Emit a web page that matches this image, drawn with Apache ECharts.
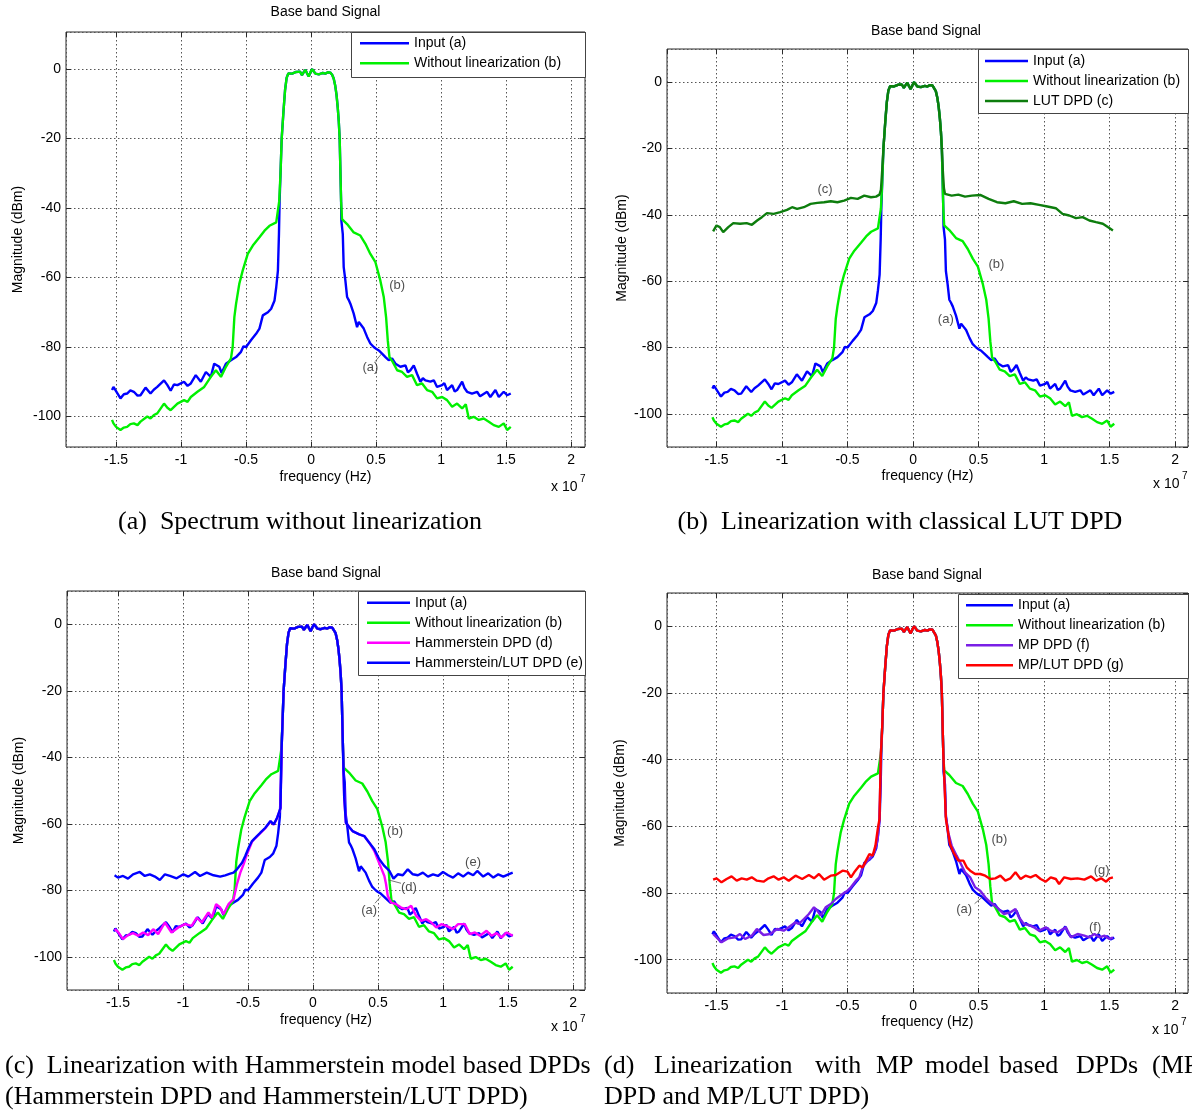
<!DOCTYPE html>
<html><head><meta charset="utf-8">
<script src="https://cdn.jsdelivr.net/npm/echarts@6/dist/echarts.min.js"></script>
<style>html,body{margin:0;padding:0;background:#fff}#c{width:1192px;height:1113px}</style>
</head><body><div id="c"></div>
<script>
// ---------- DATA (frequency in units of 1e7 Hz, magnitude in dBm) ----------
const xTickLabels = ['-1.5','-1','-0.5','0','0.5','1','1.5','2'];
const yTickLabels = ['-100','-80','-60','-40','-20','0'];

// shared pass-band (main lobe) of all spectra
const lobeTop = [[-0.235,-30],[-0.226,-20],[-0.212,-12],[-0.2,-6],[-0.188,-2.5],[-0.175,-1.2],[-0.16,-1],[-0.145,-1.3],[-0.13,-1.1],[-0.115,-0.8],[-0.1,-1.2],[-0.085,-0.7],[-0.07,-1.7],[-0.057,-0.9],[-0.044,-0.2],[-0.031,-1.2],[-0.018,-2.1],[-0.006,-1],[0.008,0],[0.02,-0.6],[0.033,-1.3],[0.046,-1.1],[0.06,-1.5],[0.072,-1.7],[0.09,-1.1],[0.11,-1.3],[0.128,-0.9],[0.148,-1],[0.162,-1.6],[0.174,-2.7],[0.186,-4.8],[0.196,-7.5],[0.205,-11],[0.213,-15],[0.22,-20],[0.226,-30]];

// (a) Input
const inputLeft = [[-1.531,-92.4],[-1.52,-91.5],[-1.466,-94.8],[-1.44,-93.6],[-1.415,-93.4],[-1.39,-92.5],[-1.363,-92.9],[-1.335,-94],[-1.312,-93.9],[-1.273,-91.7],[-1.235,-93.4],[-1.21,-92.3],[-1.183,-91.5],[-1.131,-89.6],[-1.105,-91],[-1.08,-92.6],[-1.055,-90.8],[-1.028,-91],[-0.977,-90],[-0.95,-91.2],[-0.925,-90.5],[-0.887,-88.1],[-0.848,-90],[-0.809,-87.2],[-0.771,-88.6],[-0.745,-84.8],[-0.706,-85.7],[-0.688,-87.5],[-0.655,-84.8],[-0.616,-83.8],[-0.577,-82.9],[-0.539,-81.4],[-0.52,-79.8],[-0.5,-80],[-0.461,-78],[-0.423,-76.2],[-0.397,-74.7],[-0.371,-70.9],[-0.332,-70],[-0.307,-69],[-0.281,-66.6],[-0.268,-62.8],[-0.255,-58],[-0.247,-47.5],[-0.242,-38]];
const inputRight = [[0.231,-38],[0.233,-43.6],[0.244,-47.5],[0.251,-57],[0.264,-60.9],[0.277,-65.6],[0.29,-66.5],[0.303,-67.6],[0.328,-70.4],[0.354,-74.3],[0.367,-72.8],[0.379,-73.4],[0.405,-74.7],[0.431,-77.1],[0.456,-79],[0.482,-80],[0.5,-80.5],[0.521,-81],[0.546,-81.9],[0.572,-82.9],[0.597,-83.8],[0.623,-83.3],[0.649,-84.8],[0.687,-85.7],[0.726,-85.3],[0.745,-87.3],[0.764,-86.7],[0.79,-85.3],[0.815,-87.7],[0.841,-90],[0.86,-89],[0.879,-89.6],[0.918,-90],[0.944,-89.6],[0.969,-91.5],[1.008,-91],[1.025,-90.4],[1.046,-92.4],[1.085,-91],[1.105,-92.8],[1.123,-92.4],[1.162,-90],[1.18,-91.8],[1.2,-92.9],[1.238,-93.4],[1.277,-92.9],[1.3,-94.2],[1.315,-93.9],[1.354,-92.9],[1.379,-94.4],[1.418,-92.4],[1.444,-94.4],[1.482,-92.9],[1.508,-93.9],[1.536,-93.4]];

// (b) Without linearization
const noLinLeft = [[-1.531,-101],[-1.52,-102],[-1.5,-103],[-1.466,-103.9],[-1.44,-103.2],[-1.415,-103],[-1.39,-102.2],[-1.363,-102],[-1.335,-102.5],[-1.312,-101.5],[-1.26,-100],[-1.235,-100.6],[-1.209,-99.6],[-1.183,-99.1],[-1.131,-96.3],[-1.105,-97.5],[-1.08,-98.2],[-1.028,-96.3],[-0.977,-95.3],[-0.95,-95.8],[-0.925,-94.4],[-0.874,-92.9],[-0.822,-91.5],[-0.771,-88.6],[-0.732,-86.7],[-0.693,-88.6],[-0.655,-85.7],[-0.616,-83.3],[-0.603,-80],[-0.59,-71.4],[-0.577,-67.6],[-0.552,-61.8],[-0.526,-58],[-0.487,-53.2],[-0.448,-50.8],[-0.397,-48.4],[-0.358,-46.5],[-0.32,-45.1],[-0.268,-44.1],[-0.255,-43.6],[-0.245,-38]];
const noLinRight = [[0.231,-38],[0.238,-43.2],[0.277,-44.6],[0.328,-47],[0.379,-47.9],[0.418,-50.3],[0.456,-53.2],[0.495,-55.6],[0.533,-60.9],[0.559,-65.6],[0.577,-71.4],[0.59,-78.1],[0.603,-82.9],[0.628,-84.3],[0.662,-86.7],[0.7,-87.2],[0.738,-88.6],[0.777,-88.1],[0.815,-91],[0.854,-90.5],[0.892,-92.4],[0.931,-92.9],[0.969,-94.8],[1.008,-94.4],[1.046,-95.3],[1.085,-97.2],[1.123,-96.3],[1.162,-97.7],[1.19,-96.5],[1.213,-100.6],[1.251,-100.1],[1.29,-101],[1.328,-100.6],[1.367,-101.5],[1.405,-102.5],[1.444,-103],[1.482,-102],[1.508,-103.9],[1.536,-103]];

// (c) LUT DPD
const lutLeft = [[-1.526,-45],[-1.5,-43.2],[-1.475,-43.7],[-1.449,-45.2],[-1.41,-43.7],[-1.372,-42.5],[-1.32,-42.7],[-1.27,-42.5],[-1.23,-43],[-1.19,-41.7],[-1.154,-40.7],[-1.115,-39.5],[-1.064,-39.7],[-1.013,-39.2],[-0.962,-38.5],[-0.923,-37.7],[-0.885,-38.2],[-0.833,-37.7],[-0.782,-36.7],[-0.731,-36.4],[-0.679,-36.2],[-0.628,-35.9],[-0.577,-36.2],[-0.526,-35.7],[-0.474,-34.9],[-0.423,-35.2],[-0.372,-34.2],[-0.321,-34.7],[-0.282,-34.5],[-0.256,-33.9],[-0.245,-32.5],[-0.236,-27]];
const lutRight = [[0.228,-27],[0.236,-32],[0.244,-33.7],[0.295,-34.2],[0.346,-33.9],[0.397,-34.5],[0.449,-34.2],[0.513,-34],[0.577,-35.2],[0.641,-36.2],[0.705,-36.5],[0.769,-35.9],[0.833,-36.7],[0.897,-36.5],[0.962,-37],[1.026,-37.5],[1.09,-38],[1.141,-39.7],[1.192,-40.2],[1.244,-41],[1.295,-40.7],[1.346,-41.7],[1.397,-42.2],[1.449,-42.7],[1.487,-43.7],[1.526,-44.7]];

// (d) Hammerstein DPD
const hammLeft = [[-1.526,-91.7],[-1.5,-92.5],[-1.461,-94.7],[-1.423,-93.5],[-1.384,-92.9],[-1.345,-93.7],[-1.307,-92.7],[-1.268,-93.5],[-1.229,-91.7],[-1.191,-93.2],[-1.139,-89.7],[-1.088,-92.7],[-1.036,-91.2],[-0.985,-90.2],[-0.933,-90.7],[-0.894,-88.2],[-0.856,-89.7],[-0.804,-86.7],[-0.778,-88.2],[-0.745,-84.2],[-0.714,-85.2],[-0.688,-87.2],[-0.65,-84.2],[-0.611,-82.7],[-0.585,-78.2],[-0.559,-74.7],[-0.534,-72.2],[-0.508,-69.2],[-0.469,-65.4],[-0.443,-64.3],[-0.405,-62.8],[-0.366,-61.3],[-0.327,-59.3],[-0.302,-60.3],[-0.276,-58.3],[-0.25,-55.3],[-0.242,-38]];
const hammRight = [[0.231,-38],[0.24,-52],[0.253,-59.7],[0.278,-61],[0.304,-62.2],[0.356,-63.2],[0.394,-63.7],[0.433,-65.7],[0.472,-68.2],[0.497,-70.7],[0.523,-73.2],[0.549,-75.7],[0.562,-78.2],[0.575,-81.7],[0.601,-83.7],[0.639,-84.2],[0.678,-85.2],[0.716,-85.7],[0.755,-84.7],[0.794,-87.7],[0.832,-89.2],[0.871,-88.7],[0.91,-89.7],[0.948,-91.2],[0.987,-90.2],[1.026,-90.7],[1.077,-91.7],[1.116,-90.2],[1.168,-90.2],[1.206,-93.2],[1.245,-92.7],[1.284,-93.7],[1.335,-92.2],[1.374,-93.7],[1.412,-92.9],[1.451,-94.2],[1.49,-92.7],[1.536,-93.7]];

// (e) Hammerstein/LUT DPD
const hammLutLeft = [[-1.526,-75.5],[-1.5,-76.2],[-1.461,-75.7],[-1.423,-76.5],[-1.384,-75.2],[-1.332,-74.5],[-1.294,-75.7],[-1.255,-75.2],[-1.216,-75.9],[-1.178,-76.9],[-1.139,-75.2],[-1.1,-75.7],[-1.049,-76.4],[-0.997,-75.2],[-0.959,-75.9],[-0.907,-74.5],[-0.869,-75.7],[-0.817,-74.7],[-0.765,-75.5],[-0.714,-75.9],[-0.675,-75.5],[-0.637,-75],[-0.611,-74.7],[-0.585,-73.7],[-0.546,-71.7],[-0.521,-69.7],[-0.495,-67.2],[-0.469,-65.2],[-0.443,-64.2],[-0.405,-62.7],[-0.366,-61.2],[-0.327,-59.2],[-0.302,-60.2],[-0.276,-58.2],[-0.25,-55.3],[-0.242,-38]];
const hammLutRight = [[0.231,-38],[0.24,-52],[0.253,-59.7],[0.278,-61],[0.304,-62.2],[0.356,-63.2],[0.394,-63.7],[0.433,-65.7],[0.472,-67.7],[0.51,-70.7],[0.549,-72.7],[0.588,-74.2],[0.619,-76.5],[0.652,-75.2],[0.691,-75.5],[0.729,-73.7],[0.768,-75.2],[0.807,-75.5],[0.845,-74.7],[0.884,-75.9],[0.923,-75.2],[0.961,-75.7],[1.0,-74.5],[1.039,-75.5],[1.077,-76.2],[1.116,-74.9],[1.155,-75.9],[1.193,-74.7],[1.232,-75.5],[1.263,-74.2],[1.309,-75.9],[1.348,-74.9],[1.387,-76.2],[1.425,-75.2],[1.464,-75.9],[1.503,-75.2],[1.536,-74.7]];

// (f) MP DPD
const mpLeft = [[-1.526,-92.3],[-1.513,-91.8],[-1.462,-94.8],[-1.41,-93.6],[-1.359,-93.3],[-1.321,-92.3],[-1.282,-93.8],[-1.231,-92.8],[-1.192,-90.8],[-1.141,-92.6],[-1.09,-92.3],[-1.038,-90.8],[-0.987,-91.3],[-0.949,-90.3],[-0.897,-88.8],[-0.872,-89.3],[-0.833,-87.8],[-0.795,-86.3],[-0.756,-84.3],[-0.731,-85.3],[-0.705,-86.8],[-0.667,-84.3],[-0.628,-83.3],[-0.59,-81.8],[-0.538,-80.3],[-0.5,-79.3],[-0.474,-78.3],[-0.436,-76.3],[-0.41,-75.3],[-0.385,-72.3],[-0.346,-70.3],[-0.321,-69.3],[-0.295,-67.8],[-0.27,-64],[-0.256,-58],[-0.245,-38]];
const mpRight = [[0.231,-38],[0.251,-57],[0.27,-62],[0.295,-65.8],[0.333,-68.8],[0.359,-70.8],[0.397,-73.8],[0.436,-75.3],[0.474,-78.3],[0.513,-79.3],[0.551,-81.3],[0.59,-82.8],[0.641,-84.3],[0.692,-86.3],[0.744,-85.8],[0.782,-84.8],[0.808,-87.3],[0.846,-89.3],[0.885,-89.6],[0.923,-90.3],[0.962,-91.3],[1.013,-90.3],[1.051,-91.3],[1.103,-91.8],[1.167,-90.3],[1.205,-93.3],[1.256,-92.3],[1.308,-92.8],[1.346,-93.3],[1.385,-92.3],[1.423,-93.3],[1.462,-92.8],[1.5,-93.8],[1.526,-93.3]];

// (g) MP/LUT DPD
const mpLutLeft = [[-1.526,-76],[-1.5,-75.6],[-1.462,-76.8],[-1.423,-75.8],[-1.385,-75],[-1.346,-76.3],[-1.308,-75.6],[-1.269,-76],[-1.231,-75.3],[-1.192,-76.3],[-1.141,-76.6],[-1.103,-75.6],[-1.064,-75],[-1.026,-76],[-0.987,-75.3],[-0.949,-76.3],[-0.897,-74.8],[-0.846,-75.8],[-0.795,-74.6],[-0.756,-75.6],[-0.718,-74.3],[-0.679,-76],[-0.628,-74.8],[-0.59,-74.6],[-0.538,-73.3],[-0.5,-73.6],[-0.474,-75.3],[-0.449,-73.8],[-0.41,-71.8],[-0.385,-72.3],[-0.359,-70.3],[-0.333,-68.3],[-0.308,-68.8],[-0.287,-65.8],[-0.269,-60.8],[-0.256,-57.8],[-0.245,-38]];
const mpLutRight = [[0.231,-38],[0.251,-57.8],[0.282,-65.3],[0.308,-67.8],[0.346,-70.3],[0.385,-70.3],[0.41,-72.3],[0.436,-73.3],[0.474,-74.3],[0.513,-74.3],[0.551,-74.8],[0.59,-75.8],[0.628,-75.6],[0.667,-74.8],[0.705,-76.3],[0.744,-75.6],[0.782,-73.8],[0.821,-75.8],[0.859,-74.8],[0.897,-75.3],[0.936,-74.6],[0.974,-75.8],[1.013,-76.6],[1.051,-75.3],[1.09,-75.8],[1.115,-77.3],[1.154,-75.3],[1.205,-75.8],[1.256,-75.6],[1.308,-76],[1.359,-75],[1.397,-76.3],[1.436,-75.6],[1.474,-76.6],[1.5,-75.6],[1.526,-75.3]];

// curve annotations [x, y, text] and leader lines [x1,y1,x2,y2]
const notesA = [[0.662,-62.3,'(b)'],[0.457,-85.8,'(a)']];
const leadersA = [[0.492,-84.2,0.542,-82]];
const notesB = [[-0.672,-32.3,'(c)'],[0.637,-55.1,'(b)'],[0.25,-71.5,'(a)']];
const leadersB = [];
const notesC = [[0.631,-62.4,'(b)'],[1.231,-71.6,'(e)'],[0.737,-79.1,'(d)'],[0.432,-86,'(a)']];
const leadersC = [[0.677,-77.9,0.581,-76.9],[0.477,-83.9,0.521,-81.9]];
const notesD = [[0.66,-63.9,'(b)'],[1.44,-73.2,'(g)'],[1.39,-90.2,'(f)'],[0.39,-85,'(a)']];
const leadersD = [[0.47,-83.2,0.53,-81.2]];

// ---------- build curves ----------
const full = (l, r) => l.concat(lobeTop, r);
const inputA = full(inputLeft, inputRight);
const noLinB = full(noLinLeft, noLinRight);
const lutC = lutLeft.concat(lobeTop.filter(p => p[0] > -0.228 && p[0] < 0.222), lutRight);
const hammD = full(hammLeft, hammRight);
const hammLutE = full(hammLutLeft, hammLutRight);
const mpF = full(mpLeft, mpRight);
const mpLutG = full(mpLutLeft, mpLutRight);

const BLUE = '#0000ff', GREEN = '#00f000', DKGREEN = '#0d7d0d', MAGENTA = '#ff00ff', PURPLE = '#7a1fe6', RED = '#ff0000';
const FONT = '"Liberation Sans", Arial, Helvetica, sans-serif';
const SERIF = '"Liberation Serif", "Times New Roman", serif';

const panels = [
  { grid: {left: 66, top: 32, width: 519, height: 415}, x: [-1.885, 2.107], y: [-108.8, 10.7],
    title: [325.5, 13.3], yGap: 41, xGap: 23,
    curves: [['Input (a)', inputA, BLUE], ['Without linearization (b)', noLinB, GREEN]],
    legend: {left: 360, row1: 43.3, w: 49}, box: [351, 32, 234, 45],
    notes: notesA, leaders: leadersA, x10: [551, 487] },
  { grid: {left: 667, top: 49, width: 521, height: 398}, x: [-1.878, 2.099], y: [-110, 10],
    title: [926, 31.7], yGap: 38, xGap: 22,
    curves: [['Input (a)', inputA, BLUE], ['Without linearization (b)', noLinB, GREEN], ['LUT DPD (c)', lutC, DKGREEN]],
    legend: {left: 985, row1: 61, w: 43}, box: [978, 49, 210, 64],
    notes: notesB, leaders: leadersB, x10: [1153, 484] },
  { grid: {left: 67, top: 591, width: 518, height: 399}, x: [-1.892, 2.092], y: [-110, 10],
    title: [326, 574], yGap: 41, xGap: 23,
    curves: [['Input (a)', inputA, BLUE], ['Without linearization (b)', noLinB, GREEN], ['Hammerstein DPD (d)', hammD, MAGENTA], ['Hammerstein/LUT DPD (e)', hammLutE, BLUE]],
    legend: {left: 367, row1: 602.7, w: 43}, box: [358, 591, 227, 84],
    notes: notesC, leaders: leadersC, x10: [551, 1027] },
  { grid: {left: 667, top: 593, width: 521, height: 400}, x: [-1.878, 2.099], y: [-110, 10],
    title: [927, 576], yGap: 40, xGap: 22,
    curves: [['Input (a)', inputA, BLUE], ['Without linearization (b)', noLinB, GREEN], ['MP DPD (f)', mpF, PURPLE], ['MP/LUT DPD (g)', mpLutG, RED]],
    legend: {left: 966, row1: 605.3, w: 47}, box: [958, 594, 230, 84],
    notes: notesD, leaders: leadersD, x10: [1152, 1030] }
];

const isMult = (v, s) => Math.abs(v / s - Math.round(v / s)) < 1e-6;
const grid = [], xAxis = [], yAxis = [], series = [], legend = [], title = [], graphic = [];
const txt = {color: '#000', fontSize: 14, fontFamily: FONT};

panels.forEach((p, i) => {
  grid.push(Object.assign({show: true, borderColor: '#2a2a2a', borderWidth: 1, backgroundColor: '#fff', containLabel: false}, p.grid));
  const common = {gridIndex: i, type: 'value', axisLine: {show: false, onZero: false},
    axisTick: {show: true, inside: true, length: 5, lineStyle: {color: '#2a2a2a'}}};
  xAxis.push(Object.assign({}, common, {position: 'bottom', min: p.x[0], max: p.x[1], minInterval: 0.5, maxInterval: 0.5, splitNumber: 8,
    axisLabel: Object.assign({margin: 6, showMinLabel: false, showMaxLabel: false, formatter: v => isMult(v, 0.5) ? String(+v.toFixed(2)) : ''}, txt),
    splitLine: {show: true, lineStyle: {color: '#555', width: 1, type: [1.5, 2.5]}},
    name: 'frequency (Hz)', nameLocation: 'middle', nameGap: p.xGap, nameTextStyle: txt}));
  xAxis.push(Object.assign({}, common, {position: 'top', min: p.x[0], max: p.x[1], minInterval: 0.5, maxInterval: 0.5, splitNumber: 8,
    axisLabel: {show: false}, splitLine: {show: false}}));
  yAxis.push(Object.assign({}, common, {position: 'left', min: p.y[0], max: p.y[1], minInterval: 20, maxInterval: 20, splitNumber: 6,
    axisLabel: Object.assign({margin: 5, showMinLabel: false, showMaxLabel: false, formatter: v => isMult(v, 20) ? String(Math.round(v)) : ''}, txt),
    splitLine: {show: true, lineStyle: {color: '#555', width: 1, type: [1.5, 2.5]}},
    name: 'Magnitude (dBm)', nameLocation: 'middle', nameGap: p.yGap, nameRotate: 90, nameTextStyle: txt}));
  yAxis.push(Object.assign({}, common, {position: 'right', min: p.y[0], max: p.y[1], minInterval: 20, maxInterval: 20, splitNumber: 6,
    axisLabel: {show: false}, splitLine: {show: false}}));

  p.curves.forEach(c => {
    series.push({type: 'line', name: c[0], data: c[1], xAxisIndex: 2 * i, yAxisIndex: 2 * i,
      showSymbol: false, symbol: 'none', color: c[2], lineStyle: {color: c[2], width: 2.4},
      silent: true, animation: false, clip: true, z: 2});
  });
  series.push({type: 'scatter', name: 'notes' + i, xAxisIndex: 2 * i, yAxisIndex: 2 * i, symbolSize: 1,
    itemStyle: {color: 'rgba(0,0,0,0)'}, silent: true, animation: false, z: 5,
    data: p.notes.map(n => ({value: [n[0], n[1]], label: {formatter: n[2]}})),
    label: {show: true, position: 'inside', color: '#222', fontSize: 13, fontFamily: FONT},
    markLine: {silent: true, animation: false, symbol: 'none', label: {show: false},
      lineStyle: {color: '#555', width: 0.8, type: 'solid'},
      data: p.leaders.map(l => [{coord: [l[0], l[1]]}, {coord: [l[2], l[3]]}])}});

  legend.push({left: p.legend.left, top: p.legend.row1 - 7, orient: 'vertical', padding: 0, itemGap: 6,
    itemWidth: p.legend.w, itemHeight: 2.5, icon: 'rect', selectedMode: false, z: 60,
    data: p.curves.map(c => c[0]), textStyle: {color: '#000', fontSize: 14, fontFamily: FONT, lineHeight: 14}});
  graphic.push({type: 'rect', z: 50, shape: {x: p.box[0] + 0.5, y: p.box[1] + 0.5, width: p.box[2], height: p.box[3]},
    style: {fill: '#fff', stroke: '#444', lineWidth: 1}});

  title.push({text: 'Base band Signal', left: p.title[0], top: p.title[1] - 8, textAlign: 'center', padding: 0,
    textStyle: {color: '#000', fontSize: 14, fontWeight: 'normal', fontFamily: FONT}});

  graphic.push({type: 'text', z: 50, x: p.x10[0], y: p.x10[1], style: {text: 'x 10', fill: '#000', fontSize: 14, fontFamily: FONT, verticalAlign: 'middle'}});
  graphic.push({type: 'text', z: 50, x: p.x10[0] + 29, y: p.x10[1] - 8, style: {text: '7', fill: '#000', fontSize: 10, fontFamily: FONT, verticalAlign: 'middle'}});
});

// captions
const cap = (t, x, y, align) => ({type: 'text', z: 50, x: x, y: y, style: {text: t, fill: '#000', fontSize: 26, fontFamily: SERIF, align: align || 'center', verticalAlign: 'middle'}});
graphic.push(cap('(a)  Spectrum without linearization', 300, 522));
graphic.push(cap('(b)  Linearization with classical LUT DPD', 900, 522));
graphic.push(cap('(c)  Linearization with Hammerstein model based DPDs', 5, 1066, 'left'));
graphic.push(cap('(Hammerstein DPD and Hammerstein/LUT DPD)', 5, 1097, 'left'));
const dWords = [['(d)', 604], ['Linearization', 654], ['with', 815], ['MP', 876], ['model', 925], ['based', 999], ['DPDs', 1076], ['(MP', 1152]];
dWords.forEach(w => graphic.push(cap(w[0], w[1], 1066, 'left')));
graphic.push(cap('DPD and MP/LUT DPD)', 604, 1097, 'left'));

const chart = echarts.init(document.getElementById('c'), null, {renderer: 'canvas'});
chart.setOption({animation: false, backgroundColor: '#fff', title, grid, xAxis, yAxis, legend, series, graphic});
</script></body></html>
